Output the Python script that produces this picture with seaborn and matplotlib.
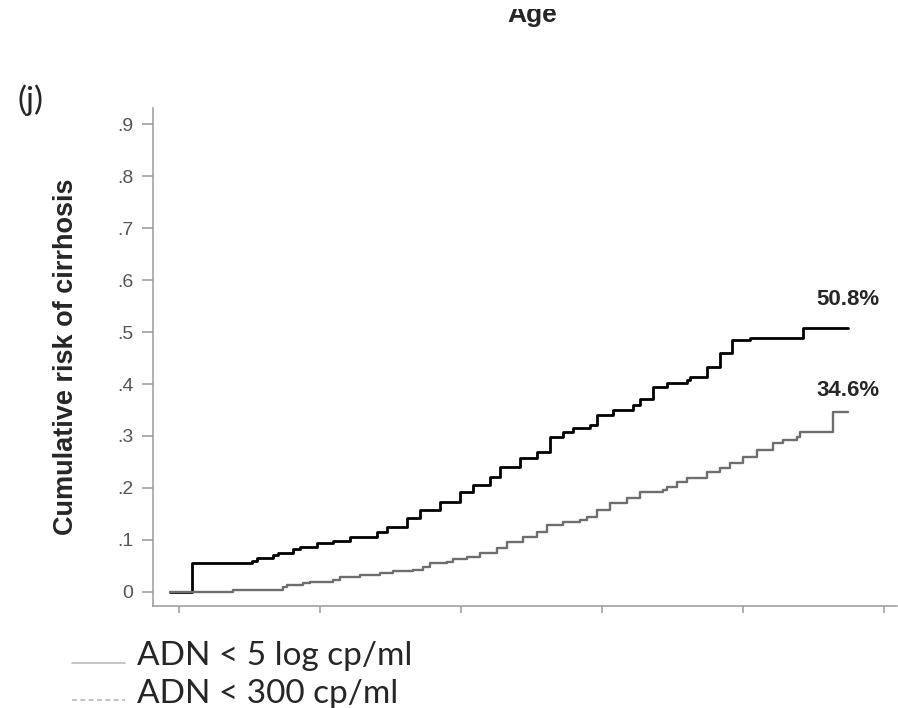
import matplotlib
matplotlib.use("Agg")
import matplotlib.pyplot as plt
import seaborn as sns
from matplotlib.lines import Line2D
from matplotlib.patches import Rectangle

# Data (x in tick units, y = cumulative risk)
adn5_x = [-0.064, 0.092, 0.518, 0.553, 0.667, 0.702, 0.809, 0.858, 0.979, 1.092,
          1.213, 1.404, 1.475, 1.617, 1.709, 1.851, 1.993, 2.085, 2.206, 2.277,
          2.418, 2.539, 2.631, 2.723, 2.794, 2.915, 2.965, 3.078, 3.220, 3.270,
          3.362, 3.461, 3.603, 3.624, 3.745, 3.837, 3.922, 4.050, 4.426, 4.745]
adn5_y = [0.000, 0.056, 0.060, 0.065, 0.071, 0.075, 0.083, 0.087, 0.094, 0.098,
          0.106, 0.115, 0.125, 0.142, 0.158, 0.173, 0.192, 0.206, 0.221, 0.240,
          0.258, 0.269, 0.298, 0.308, 0.315, 0.321, 0.340, 0.350, 0.360, 0.371,
          0.394, 0.402, 0.408, 0.413, 0.433, 0.460, 0.485, 0.488, 0.508, 0.508]

adn300_x = [-0.064, 0.383, 0.738, 0.766, 0.879, 0.929, 1.092, 1.142, 1.284, 1.426,
            1.518, 1.660, 1.730, 1.780, 1.901, 1.943, 2.043, 2.135, 2.255, 2.326,
            2.440, 2.539, 2.610, 2.723, 2.844, 2.894, 2.965, 3.057, 3.177, 3.270,
            3.433, 3.461, 3.532, 3.603, 3.745, 3.837, 3.908, 4.000, 4.099, 4.213,
            4.284, 4.383, 4.404, 4.638, 4.745]
adn300_y = [0.000, 0.004, 0.010, 0.013, 0.017, 0.019, 0.023, 0.029, 0.033, 0.037,
            0.040, 0.042, 0.048, 0.056, 0.058, 0.063, 0.067, 0.075, 0.085, 0.096,
            0.106, 0.115, 0.129, 0.135, 0.138, 0.144, 0.158, 0.171, 0.181, 0.192,
            0.196, 0.202, 0.212, 0.219, 0.231, 0.238, 0.248, 0.260, 0.273, 0.287,
            0.292, 0.298, 0.308, 0.346, 0.346]

y_ticks = [0, 0.1, 0.2, 0.3, 0.4, 0.5, 0.6, 0.7, 0.8, 0.9]
y_tick_labels = ["0", ".1", ".2", ".3", ".4", ".5", ".6", ".7", ".8", ".9"]
x_ticks = [0, 1, 2, 3, 4, 5]
end_labels = ["50.8%", "34.6%"]
legend_labels = ["ADN < 5 log cp/ml", "ADN < 300 cp/ml"]

sns.set_style("white")
plt.rcParams['font.family'] = ['Liberation Sans', 'DejaVu Sans']

fig = plt.figure(figsize=(8.98, 7.08), dpi=100)
ax = fig.add_axes([0.1704, 0.1441, 0.8285, 0.7034])

sns.lineplot(x=adn5_x, y=adn5_y, ax=ax, color="black", linewidth=2.0,
             drawstyle="steps-post", estimator=None, sort=False)
sns.lineplot(x=adn300_x, y=adn300_y, ax=ax, color="#6e6e6e", linewidth=1.7,
             drawstyle="steps-post", estimator=None, sort=False)

ax.set_xlim(-0.184, 5.092)
ax.set_ylim(-0.027, 0.931)
ax.set_yticks(y_ticks)
ax.set_yticklabels(y_tick_labels)
ax.set_xticks(x_ticks)
ax.set_xticklabels([])

for side in ["top", "right"]:
    ax.spines[side].set_visible(False)
for side in ["left", "bottom"]:
    ax.spines[side].set_color("#9a9a9a")
    ax.spines[side].set_linewidth(1.1)

ax.tick_params(axis="y", left=True, length=8, width=1.1, color="#9a9a9a",
               labelsize=14, labelcolor="#555555", pad=6)
ax.tick_params(axis="x", bottom=True, length=5, width=1.1, color="#9a9a9a")

ax.set_ylabel("Cumulative risk of cirrhosis", fontsize=19.5, fontweight="bold")
ax.yaxis.set_label_coords(-0.10, 0.5)

# percentages at the end of the curves
ax.text(adn5_x[-1], 0.563, end_labels[0], ha="center", va="center",
        fontsize=16, fontweight="bold")
ax.text(adn300_x[-1], 0.388, end_labels[1], ha="center", va="center",
        fontsize=16, fontweight="bold")

# panel letter and cut-off title of the panel above
fig.text(0.020, 0.859, "(j)", fontsize=24, family=["Lato", "DejaVu Sans"],
         va="center", ha="left")
fig.text(532 / 898, 1 - 22 / 708, "Age", fontsize=19, fontweight="bold",
         ha="center", va="baseline")
fig.patches.append(Rectangle((0, 1 - 9 / 708), 1, 9 / 708, transform=fig.transFigure,
                             facecolor="white", edgecolor="none", zorder=10))

# legend drawn below the axes
fig.add_artist(Line2D([72 / 898, 125 / 898], [1 - 663 / 708] * 2, color="#bbbbbb",
                      linewidth=1.2))
fig.add_artist(Line2D([72 / 898, 125 / 898], [1 - 700 / 708] * 2, color="#bbbbbb",
                      linewidth=1.2, linestyle=(0, (3, 2))))
fig.text(137 / 898, 1 - 665 / 708, legend_labels[0], fontsize=24,
         family=["Lato", "DejaVu Sans"], va="baseline", ha="left")
fig.text(137 / 898, 1 - 703 / 708, legend_labels[1], fontsize=24,
         family=["Lato", "DejaVu Sans"], va="baseline", ha="left")

fig.savefig("out.png", dpi=100)
